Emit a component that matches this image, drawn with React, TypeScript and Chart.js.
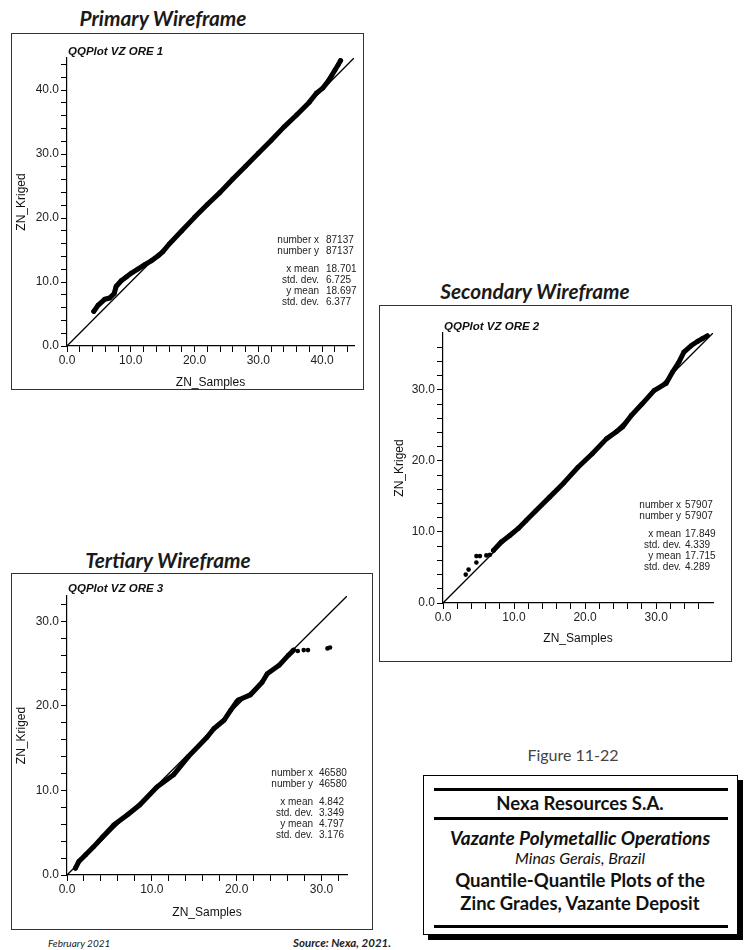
import React, { useEffect, useRef } from "react";
import { Chart, registerables } from "chart.js";
Chart.register(...registerables);

// ---------- DATA ----------
// Primary Wireframe (ORE 1)
const ore1SamplesQ = [4.2, 4.9, 5.9, 6.7, 7.4, 7.7, 8.5, 9.3, 10.1, 11.1, 12.2, 13.2, 14.3, 15.0, 16.0, 18.0, 20.0, 22.0, 24.0, 26.0, 28.0, 30.0, 32.0, 34.0, 36.0, 38.0, 39.1, 40.1, 40.9, 41.4, 42.0, 42.5, 42.9];
const ore1KrigedQ = [5.4, 6.4, 7.3, 7.5, 8.2, 9.3, 10.2, 10.8, 11.4, 12.0, 12.7, 13.3, 14.1, 14.7, 15.9, 18.0, 20.1, 22.1, 24.0, 26.1, 28.1, 30.1, 32.1, 34.2, 36.1, 38.1, 39.5, 40.3, 41.3, 42.1, 43.1, 43.9, 44.6];
const ore1OutX: number[] = [];
const ore1OutY: number[] = [];
const ore1Max = 45;
const ore1Stats = ["87137", "87137", "18.701", "6.725", "18.697", "6.377"];

// Secondary Wireframe (ORE 2)
const ore2SamplesQ = [7.1, 8.2, 9.4, 10.6, 11.7, 13.0, 15.0, 17.0, 19.0, 21.0, 23.0, 24.4, 25.3, 26.5, 28.0, 29.7, 31.4, 32.3, 33.2, 33.9, 34.9, 35.8, 36.5, 37.2];
const ore2KrigedQ = [7.4, 8.6, 9.5, 10.5, 11.6, 12.9, 14.9, 16.9, 19.1, 21.0, 23.1, 24.1, 24.8, 26.4, 28.0, 29.9, 30.9, 32.5, 33.9, 35.3, 36.2, 36.8, 37.2, 37.6];
const ore2OutX = [3.2, 3.6, 4.7, 4.7, 5.2, 6.1, 6.6];
const ore2OutY = [4.0, 4.7, 5.7, 6.6, 6.6, 6.7, 6.8];
const ore2Max = 38;
const ore2Stats = ["57907", "57907", "17.849", "4.339", "17.715", "4.289"];

// Tertiary Wireframe (ORE 3)
const ore3SamplesQ = [1.0, 1.4, 2.2, 3.1, 4.2, 5.5, 7.1, 8.6, 10.6, 12.6, 14.3, 16.5, 17.3, 18.5, 19.3, 20.0, 20.2, 21.6, 23.0, 23.6, 25.0, 26.1, 26.7];
const ore3KrigedQ = [0.8, 1.6, 2.4, 3.3, 4.5, 5.9, 7.1, 8.3, 10.4, 11.9, 14.0, 16.3, 17.3, 18.3, 19.5, 20.5, 20.7, 21.3, 22.8, 23.8, 24.8, 26.0, 26.6];
const ore3OutX = [27.2, 27.9, 28.4, 30.7, 31.0];
const ore3OutY = [26.5, 26.6, 26.6, 26.8, 26.9];
const ore3Max = 33;
const ore3Stats = ["46580", "46580", "4.842", "3.349", "4.797", "3.176"];

const statLabels = ["number x", "number y", "x mean", "std. dev.", "y mean", "std. dev."];
const majorTicks = [0, 10, 20, 30, 40];
const minorStep = 2;
const xAxisTitle = "ZN_Samples";
const yAxisTitle = "ZN_Kriged";

// ---------- LAYOUT ----------
const statRowOffsets = [0, 11, 29, 40, 51, 62];
const SANS = '"Liberation Sans", Arial, Helvetica, sans-serif';
const CAL = 'Lato, "Open Sans", sans-serif';

type Cfg = {
  title: string;
  xs: number[];
  ys: number[];
  outX: number[];
  outY: number[];
  max: number;
  stats: string[];
  w: number;
  h: number;
  yW: number;
  xH: number;
  padTop: number;
  padRight: number;
  titleDy: number;
  statsTop: number;
  labelRight: number;
  xTitleDy: number;
  yTitleDx: number;
};

const textPlugin = {
  id: "qqText",
  afterDraw(chart: any, _args: any, opts: any) {
    const { ctx, chartArea: a } = chart;
    ctx.save();
    ctx.fillStyle = "#111";
    ctx.textBaseline = "middle";
    ctx.font = `italic bold 11.5px ${SANS}`;
    ctx.textAlign = "left";
    ctx.fillText(opts.title, a.left + 1, a.top + opts.titleDy);

    ctx.font = `10px ${SANS}`;
    ctx.fillStyle = "#222";
    statLabels.forEach((l, i) => {
      const y = a.bottom - opts.statsTop + statRowOffsets[i];
      ctx.textAlign = "right";
      ctx.fillText(l, a.right - opts.labelRight, y);
      ctx.textAlign = "left";
      ctx.fillText(opts.stats[i], a.right - 28, y);
    });

    ctx.fillStyle = "#111";
    ctx.font = `12px ${SANS}`;
    ctx.textAlign = "center";
    ctx.fillText(xAxisTitle, (a.left + a.right) / 2, a.bottom + opts.xTitleDy);
    ctx.translate(a.left - opts.yTitleDx, (a.top + a.bottom) / 2);
    ctx.rotate(-Math.PI / 2);
    ctx.fillText(yAxisTitle, 0, 0);
    ctx.restore();
  },
};

function tickList(max: number) {
  const t: { value: number }[] = [];
  for (let v = 0; v < max; v += minorStep) t.push({ value: v });
  return t;
}

function QQChart({ cfg }: { cfg: Cfg }) {
  const ref = useRef<HTMLCanvasElement>(null);
  useEffect(() => {
    const band = cfg.xs.map((x, i) => ({ x, y: cfg.ys[i] }));
    const outs = cfg.outX.map((x, i) => ({ x, y: cfg.outY[i] }));
    const axis = (isX: boolean) => ({
      type: "linear" as const,
      min: 0,
      max: cfg.max,
      afterBuildTicks: (s: any) => {
        s.ticks = tickList(cfg.max);
      },
      afterFit: (s: any) => {
        if (isX) s.height = cfg.xH;
        else s.width = cfg.yW;
      },
      grid: {
        display: true,
        drawOnChartArea: false,
        drawTicks: true,
        tickLength: 6,
        color: "#000",
        lineWidth: 1,
      },
      border: { display: true, color: "#000", width: 1.2 },
      ticks: {
        autoSkip: false,
        maxRotation: 0,
        padding: isX ? 1 : 2,
        color: "#222",
        font: { family: SANS, size: 12 },
        callback: (v: any) => (majorTicks.includes(Number(v)) ? Number(v).toFixed(1) : ""),
      },
    });
    const chart = new Chart(ref.current!, {
      type: "scatter",
      data: {
        datasets: [
          {
            data: [
              { x: 0, y: 0 },
              { x: cfg.max, y: cfg.max },
            ],
            showLine: true,
            borderColor: "#000",
            borderWidth: 1.3,
            pointRadius: 0,
          },
          {
            data: band,
            showLine: true,
            borderColor: "#000",
            backgroundColor: "#000",
            borderWidth: 5,
            borderJoinStyle: "round",
            borderCapStyle: "round",
            pointRadius: 2.4,
            pointBorderWidth: 0,
          },
          {
            data: outs,
            showLine: false,
            backgroundColor: "#000",
            borderColor: "#000",
            pointRadius: 2.3,
            pointBorderWidth: 0,
          },
        ],
      },
      options: {
        animation: false,
        responsive: false,
        events: [],
        layout: { padding: { top: cfg.padTop, right: cfg.padRight, left: 0, bottom: 0 } },
        plugins: {
          legend: { display: false },
          tooltip: { enabled: false },
          qqText: {
            title: cfg.title,
            stats: cfg.stats,
            titleDy: cfg.titleDy,
            statsTop: cfg.statsTop,
            labelRight: cfg.labelRight,
            xTitleDy: cfg.xTitleDy,
            yTitleDx: cfg.yTitleDx,
          },
        } as any,
        scales: { x: axis(true), y: axis(false) },
      },
      plugins: [textPlugin],
    });
    return () => chart.destroy();
  }, [cfg]);
  return <canvas ref={ref} width={cfg.w} height={cfg.h} style={{ display: "block", width: cfg.w, height: cfg.h }} />;
}

const cfg1: Cfg = {
  title: "QQPlot VZ ORE 1", xs: ore1SamplesQ, ys: ore1KrigedQ, outX: ore1OutX, outY: ore1OutY, max: ore1Max, stats: ore1Stats,
  w: 351, h: 355, yW: 55, xH: 43, padTop: 24, padRight: 9, titleDy: -6, statsTop: 106, labelRight: 35, xTitleDy: 37, yTitleDx: 45.5,
};
const cfg2: Cfg = {
  title: "QQPlot VZ ORE 2", xs: ore2SamplesQ, ys: ore2KrigedQ, outX: ore2OutX, outY: ore2OutY, max: ore2Max, stats: ore2Stats,
  w: 351, h: 355, yW: 63, xH: 58, padTop: 27, padRight: 18, titleDy: -6, statsTop: 98, labelRight: 32, xTitleDy: 35.5, yTitleDx: 43,
};
const cfg3: Cfg = {
  title: "QQPlot VZ ORE 3", xs: ore3SamplesQ, ys: ore3KrigedQ, outX: ore3OutX, outY: ore3OutY, max: ore3Max, stats: ore3Stats,
  w: 360, h: 355, yW: 55, xH: 54, padTop: 22, padRight: 25, titleDy: -7, statsTop: 101.5, labelRight: 34, xTitleDy: 38, yTitleDx: 45,
};

const abs = (left: number, top: number, extra: React.CSSProperties = {}): React.CSSProperties => ({
  position: "absolute",
  left,
  top,
  ...extra,
});

function Heading({ text, cx, cy }: { text: string; cx: number; cy: number }) {
  return (
    <div
      style={abs(cx - 150, cy - 13, {
        width: 300,
        textAlign: "center",
        lineHeight: "26px",
        fontFamily: CAL,
        fontWeight: 700,
        fontStyle: "italic",
        fontSize: 20.8,
        color: "#1a1a1a",
      })}
    >
      {text}
    </div>
  );
}

function Panel({ cfg, left, top, width }: { cfg: Cfg; left: number; top: number; width: number }) {
  return (
    <div style={abs(left, top, { width, height: 357, boxSizing: "border-box", border: "1px solid #333", background: "#fff" })}>
      <QQChart cfg={cfg} />
    </div>
  );
}

export default function App() {
  const line = (top: number) => (
    <div style={abs(10, top, { width: 294, height: 3, background: "#000" })} />
  );
  const boxText = (text: string, cy: number, size: number, weight: number, italic: boolean) => (
    <div
      style={abs(0, cy - 12, {
        width: 312,
        textAlign: "center",
        lineHeight: "24px",
        fontFamily: CAL,
        fontSize: size,
        fontWeight: weight,
        fontStyle: italic ? "italic" : "normal",
        color: "#111",
        whiteSpace: "nowrap",
      })}
    >
      {text}
    </div>
  );
  return (
    <div style={abs(0, 0, { width: 747, height: 950, background: "#fff", overflow: "hidden" })}>
      <Heading text="Primary Wireframe" cx={163} cy={18} />
      <Panel cfg={cfg1} left={11} top={33} width={353} />

      <Heading text="Secondary Wireframe" cx={535} cy={291} />
      <Panel cfg={cfg2} left={379} top={305} width={353} />

      <Heading text="Tertiary Wireframe" cx={168} cy={560} />
      <Panel cfg={cfg3} left={11} top={573} width={362} />

      <div style={abs(478, 744, { width: 190, textAlign: "center", lineHeight: "22px", fontFamily: CAL, fontSize: 16, color: "#444" })}>
        Figure 11-22
      </div>
      <div
        style={abs(423, 775, {
          width: 315,
          height: 160,
          boxSizing: "border-box",
          border: "1.5px solid #000",
          boxShadow: "5px 5px 0 #000",
          background: "#fff",
        })}
      >
        {line(12)}
        {line(41)}
        {line(149)}
        {boxText("Nexa Resources S.A.", 27, 18.5, 700, false)}
        {boxText("Vazante Polymetallic Operations", 62, 19, 700, true)}
        {boxText("Minas Gerais, Brazil", 82, 16, 400, true)}
        {boxText("Quantile-Quantile Plots of the", 104, 18.6, 700, false)}
        {boxText("Zinc Grades, Vazante Deposit", 127, 18.4, 700, false)}
      </div>

      <div style={abs(48, 934, { lineHeight: "18px", fontFamily: CAL, fontSize: 10, fontStyle: "italic", color: "#222" })}>
        February 2021
      </div>
      <div style={abs(293, 934, { lineHeight: "18px", fontFamily: CAL, fontSize: 11.5, fontStyle: "italic", fontWeight: 700, color: "#222" })}>
        Source: Nexa, 2021.
      </div>
    </div>
  );
}
